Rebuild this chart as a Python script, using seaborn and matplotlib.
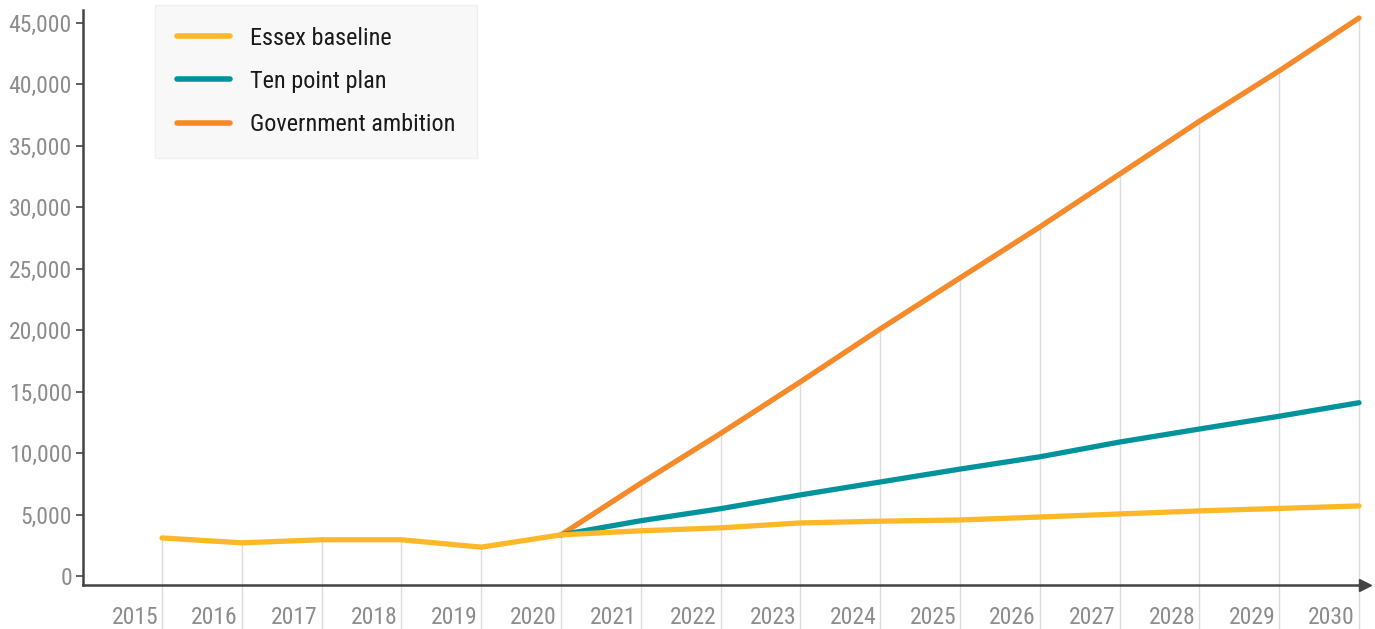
import numpy as np
import pandas as pd
import matplotlib
matplotlib.use("Agg")
import matplotlib.pyplot as plt
import matplotlib.transforms as mtransforms
from matplotlib import font_manager
from matplotlib.ticker import FuncFormatter
import seaborn as sns

years = list(range(2015, 2031))
essex_baseline = [3100, 2700, 2950, 2950, 2350, 3350, 3680, 3920, 4320, 4460, 4560, 4800, 5050, 5300, 5500, 5700]
ten_point_years = list(range(2020, 2031))
ten_point_plan = [3350, 4500, 5480, 6600, 7650, 8700, 9700, 10900, 11960, 13000, 14100]
gov_years = list(range(2020, 2031))
government_ambition = [3350, 7550, 11600, 15800, 20100, 24250, 28400, 32700, 37000, 41100, 45400]
series_names = ["Essex baseline", "Ten point plan", "Government ambition"]
colors = ["#fdb827", "#00939b", "#f58a2a"]

df = pd.concat([
    pd.DataFrame({"year": years, "value": essex_baseline, "series": series_names[0]}),
    pd.DataFrame({"year": ten_point_years, "value": ten_point_plan, "series": series_names[1]}),
    pd.DataFrame({"year": gov_years, "value": government_ambition, "series": series_names[2]}),
])

sns.set_theme(style="white")
avail = {f.name for f in font_manager.fontManager.ttflist}
fam = "DejaVu Sans"
for cand in ["Roboto Condensed", "Liberation Sans Narrow", "DejaVu Sans Condensed", "Roboto"]:
    if cand in avail:
        fam = cand
        break
plt.rcParams["font.family"] = [fam, "DejaVu Sans"]

fig = plt.figure(figsize=(13.75, 6.29), dpi=100)
ax = fig.add_axes([83/1375, 1 - 585/629, 1282/1375, 575/629])

# drop lines from top value at each year
top = df.groupby("year")["value"].max()
ax.vlines(top.index, -6000, top.values, color="#dcdcdc", lw=1.0, zorder=1, clip_on=False)

sns.lineplot(data=df, x="year", y="value", hue="series", hue_order=series_names,
             palette=colors, linewidth=3.8, ax=ax, legend=True, sort=False)
for ln, z in zip(ax.lines, [5, 4, 3]):
    ln.set_zorder(z)
    ln.set_solid_capstyle("round")
    ln.set_solid_joinstyle("round")

ax.set_xlim(2014.01, 2030.075)
ax.set_ylim(-730, 46050)
ax.set_xlabel("")
ax.set_ylabel("")

ax.set_yticks(np.arange(0, 45001, 5000))
ax.yaxis.set_major_formatter(FuncFormatter(lambda v, p: f"{int(v):,}"))
ax.set_xticks(years)
ax.set_xticklabels([str(y) for y in years])
ax.tick_params(axis="y", length=5, width=1.2, color="#444444", labelcolor="#8c8c8c",
               labelsize=17, pad=3, left=True)
ax.tick_params(axis="x", length=0, labelcolor="#8c8c8c", labelsize=17, pad=15)
offset = mtransforms.ScaledTranslation(-4/100, 0, fig.dpi_scale_trans)
for lab in ax.get_xticklabels():
    lab.set_horizontalalignment("right")
    lab.set_transform(lab.get_transform() + offset)

for s in ["top", "right"]:
    ax.spines[s].set_visible(False)
for s in ["left", "bottom"]:
    ax.spines[s].set_color("#444444")
    ax.spines[s].set_linewidth(1.8)
ax.grid(False)

# arrow at end of x-axis
ax.plot([1.0], [0.0], marker=">", markersize=9, color="#444444", transform=ax.transAxes,
        clip_on=False, zorder=6)

handles, labels = ax.get_legend_handles_labels()
leg = ax.legend(handles, labels, loc="upper left", bbox_to_anchor=(0.056, 1.009),
                borderaxespad=0, frameon=True, fancybox=False, fontsize=17.5,
                handlelength=2.2, handletextpad=0.8, labelspacing=0.83, borderpad=0.9)
leg.get_frame().set_facecolor("#f7f7f7")
leg.get_frame().set_edgecolor("#ececec")
leg.get_frame().set_linewidth(1.0)
for h in leg.get_lines():
    h.set_linewidth(4)
    h.set_solid_capstyle("round")
for t in leg.get_texts():
    t.set_color("#1a1a1a")

fig.savefig("out.png", dpi=100)
